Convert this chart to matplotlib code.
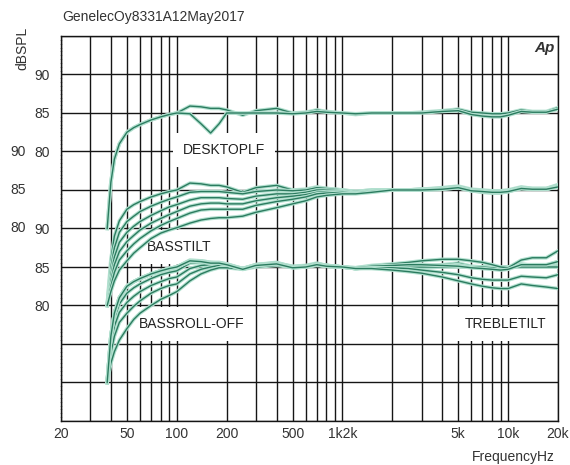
import matplotlib
matplotlib.use("Agg")
import matplotlib.pyplot as plt
import matplotlib.patheffects as pe
from matplotlib.ticker import FixedLocator, FixedFormatter, MultipleLocator, NullFormatter

plt.rcParams['font.family'] = ['Liberation Sans', 'DejaVu Sans']

# ---------------- data ----------------
FREQ = [38, 40, 42, 45, 50, 55, 60, 70, 80, 90, 100, 120, 140, 160, 180, 200, 250, 300, 400, 500,
        600, 700, 800, 1000, 1200, 1500, 2000, 2500, 3000, 4000, 5000, 6000, 7000, 8000, 9000, 10000,
        12000, 14000, 17000, 20000]

# Set 1: DESKTOP LF
FLAT = [70.0, 76.0, 79.0, 81.0, 82.5, 83.1, 83.5, 84.1, 84.5, 84.8, 85.0, 85.9, 85.8, 85.6, 85.6, 85.4, 84.7, 85.3, 85.6, 85.0,
        85.1, 85.4, 85.2, 85.0, 84.8, 85.0, 85.0, 85.0, 85.1, 85.3, 85.5, 85.1, 85.0, 84.9, 84.9, 85.0, 85.4, 85.2, 85.2, 85.7]
DESK = [70.0, 76.0, 79.0, 81.0, 82.5, 83.1, 83.5, 84.1, 84.5, 84.8, 85.0, 84.9, 83.6, 82.4, 83.6, 85.0, 85.0, 85.0, 85.0, 84.9,
        85.0, 85.2, 85.1, 85.0, 84.9, 85.0, 85.0, 85.0, 85.0, 85.2, 85.3, 84.8, 84.6, 84.5, 84.5, 84.7, 85.2, 85.1, 85.1, 85.5]

# Set 2: BASS TILT
BT1 = [70.0, 75.0, 77.5, 79.5, 80.9, 81.6, 82.2, 82.9, 83.4, 83.8, 84.1, 84.7, 84.8, 84.8, 84.8, 84.7, 84.5, 84.8, 85.0, 84.9,
       85.0, 85.3, 85.2, 85.0, 84.8, 85.0, 85.0, 85.0, 85.1, 85.2, 85.4, 85.0, 84.9, 84.8, 84.8, 84.9, 85.3, 85.2, 85.2, 85.6]
BT2 = [70.0, 74.0, 76.3, 78.2, 79.5, 80.3, 80.9, 81.7, 82.3, 82.8, 83.1, 83.7, 84.0, 84.0, 84.0, 83.9, 83.8, 84.2, 84.5, 84.5,
       84.7, 85.0, 85.0, 84.9, 84.7, 84.9, 85.0, 85.0, 85.1, 85.2, 85.4, 84.9, 84.7, 84.6, 84.6, 84.8, 85.3, 85.1, 85.1, 85.5]
BT3 = [70.0, 73.2, 75.3, 77.0, 78.3, 79.1, 79.8, 80.7, 81.3, 81.8, 82.2, 82.9, 83.2, 83.3, 83.3, 83.2, 83.2, 83.6, 84.0, 84.2,
       84.4, 84.7, 84.8, 84.8, 84.6, 84.9, 85.0, 85.0, 85.0, 85.2, 85.3, 85.0, 84.9, 84.8, 84.8, 84.9, 85.2, 85.1, 85.1, 85.5]
BT4 = [70.0, 72.5, 74.3, 75.9, 77.1, 78.0, 78.7, 79.7, 80.4, 80.9, 81.3, 82.0, 82.4, 82.5, 82.5, 82.5, 82.5, 83.0, 83.5, 83.8,
       84.1, 84.5, 84.6, 84.7, 84.6, 84.8, 85.0, 85.0, 85.0, 85.1, 85.3, 84.9, 84.8, 84.7, 84.7, 84.8, 85.2, 85.1, 85.1, 85.5]
BT5 = [70.0, 71.8, 73.2, 74.6, 75.8, 76.8, 77.5, 78.7, 79.4, 79.8, 80.1, 80.7, 81.1, 81.3, 81.4, 81.4, 81.6, 82.1, 82.7, 83.2,
       83.6, 84.1, 84.3, 84.5, 84.5, 84.7, 85.0, 85.0, 85.0, 85.1, 85.3, 84.9, 84.8, 84.7, 84.7, 84.8, 85.2, 85.1, 85.1, 85.4]

# Set 3: BASS ROLL-OFF and TREBLE TILT
RO1 = [70.0, 75.5, 78.3, 80.2, 81.6, 82.3, 82.8, 83.5, 84.0, 84.3, 84.5, 85.5, 85.6, 85.5, 85.5, 85.3, 84.8, 85.3, 85.5, 85.0,
       85.1, 85.4, 85.2, 85.0, 84.8, 85.0, 85.0, 85.0, 85.1, 85.2, 85.3, 85.0, 85.0, 84.9, 84.9, 85.0, 85.2, 85.1, 85.1, 85.3]
RO2 = [70.0, 74.8, 77.3, 79.1, 80.4, 81.2, 81.8, 82.6, 83.1, 83.5, 83.7, 84.8, 85.2, 85.3, 85.4, 85.2, 84.8, 85.2, 85.4, 85.0,
       85.1, 85.3, 85.2, 85.0, 84.8, 85.0, 85.0, 85.0, 85.0, 85.1, 85.2, 85.0, 85.0, 84.9, 84.9, 85.0, 85.1, 85.0, 85.0, 85.2]
RO3 = [70.0, 73.8, 76.0, 77.8, 79.0, 79.9, 80.6, 81.6, 82.2, 82.6, 82.8, 84.1, 84.7, 85.0, 85.2, 85.1, 84.8, 85.1, 85.3, 85.0,
       85.1, 85.3, 85.1, 85.0, 84.8, 85.0, 85.0, 85.0, 85.0, 85.1, 85.1, 85.0, 85.0, 84.9, 84.9, 85.0, 85.1, 85.0, 85.0, 85.1]
RO4 = [70.0, 72.5, 74.0, 75.5, 77.0, 78.2, 79.0, 80.0, 80.8, 81.3, 81.8, 83.2, 84.1, 84.6, 84.9, 84.9, 84.7, 85.0, 85.2, 85.0,
       85.0, 85.2, 85.1, 85.0, 84.8, 85.0, 85.0, 85.0, 85.0, 85.0, 85.0, 85.0, 85.0, 84.9, 84.9, 85.0, 85.0, 85.0, 85.0, 85.0]
TT1 = [70.0, 76.0, 79.0, 81.0, 82.5, 83.1, 83.5, 84.1, 84.5, 84.8, 85.0, 85.8, 85.8, 85.6, 85.5, 85.4, 84.8, 85.3, 85.5, 85.1,
       85.2, 85.5, 85.2, 85.0, 84.9, 85.2, 85.4, 85.6, 85.8, 86.0, 86.0, 85.8, 85.6, 85.3, 85.0, 84.9, 85.9, 86.2, 86.2, 87.1]
TT2 = [70.0, 76.0, 79.0, 81.0, 82.5, 83.1, 83.5, 84.1, 84.5, 84.8, 85.0, 85.7, 85.7, 85.5, 85.5, 85.3, 84.8, 85.2, 85.5, 85.0,
       85.1, 85.4, 85.2, 85.0, 84.9, 85.1, 85.2, 85.3, 85.3, 85.2, 85.1, 84.9, 84.8, 84.7, 84.6, 84.7, 85.3, 85.3, 85.3, 85.7]
TT3 = [70.0, 76.0, 79.0, 81.0, 82.5, 83.1, 83.5, 84.1, 84.5, 84.8, 85.0, 85.8, 85.7, 85.5, 85.5, 85.3, 84.7, 85.2, 85.4, 84.9,
       85.0, 85.3, 85.1, 85.0, 84.8, 84.9, 84.9, 84.8, 84.6, 84.3, 84.0, 83.6, 83.4, 83.3, 83.3, 83.3, 83.8, 83.7, 83.6, 84.0]
TT4 = [70.0, 76.0, 79.0, 81.0, 82.5, 83.1, 83.5, 84.1, 84.5, 84.8, 85.0, 85.8, 85.7, 85.5, 85.5, 85.3, 84.7, 85.2, 85.4, 84.9,
       85.0, 85.3, 85.1, 85.0, 84.8, 84.8, 84.6, 84.4, 84.2, 83.7, 83.2, 82.8, 82.5, 82.3, 82.2, 82.2, 82.8, 82.6, 82.4, 82.2]

SET_OFFSETS = [0, -10, -20]
SETS = [[FLAT, DESK],
        [FLAT, BT1, BT2, BT3, BT4, BT5],
        [FLAT, RO1, RO2, RO3, RO4, TT1, TT2, TT3, TT4]]

X_TICKS = [20, 50, 100, 200, 500, 1000, 5000, 10000, 20000]
X_LABELS = ['20', '50', '100', '200', '500', '1k2k', '5k', '10k', '20k']
Y_TICKS_RIGHT = {90: '90', 85: '85', 80: '80', 70: '90', 65: '85', 60: '80'}
Y_TICKS_LEFT = {80: '90', 75: '85', 70: '80'}

LABELS = [('DESKTOPLF', 193, 80.2), ('BASSTILT', 104, 67.6),
          ('BASSROLL-OFF', 123, 57.6), ('TREBLETILT', 9600, 57.6)]

# ---------------- plot ----------------
W, H = 570, 465
fig = plt.figure(figsize=(W / 100, H / 100), dpi=100)
ax = fig.add_axes([61 / W, 1 - 421 / H, 497 / W, 385 / H])
ax.set_xscale('log')
ax.set_xlim(20, 20000)
ax.set_ylim(45, 95)

gridc = '#151515'
minor_x = [m * 10 ** e for e in range(1, 5) for m in range(1, 10)
           if 20 <= m * 10 ** e <= 20000 and m * 10 ** e not in X_TICKS]
ax.xaxis.set_major_locator(FixedLocator(X_TICKS))
ax.xaxis.set_major_formatter(FixedFormatter(X_LABELS))
ax.xaxis.set_minor_locator(FixedLocator(minor_x))
ax.xaxis.set_minor_formatter(NullFormatter())
ax.grid(True, which='both', axis='x', color=gridc, lw=1.0, zorder=0.5)

ax.yaxis.set_major_locator(MultipleLocator(5))
ax.yaxis.set_major_formatter(plt.FuncFormatter(lambda v, p: Y_TICKS_RIGHT.get(int(round(v)), '')))
ax.yaxis.set_minor_locator(MultipleLocator(0.5))
ax.grid(True, which='major', axis='y', color=gridc, lw=1.0, zorder=0.5)
ax.set_axisbelow(True)

ax.tick_params(axis='x', which='both', length=0, pad=4, labelsize=10, labelcolor='#333333')
ax.tick_params(axis='y', which='major', length=0, pad=8, labelsize=10, labelcolor='#333333')
ax.tick_params(axis='y', which='minor', length=2, width=0.6, direction='inout', color='#9a9a9a')
for s in ax.spines.values():
    s.set_color(gridc)
    s.set_linewidth(1.0)

for v, t in Y_TICKS_LEFT.items():
    ax.text(-0.0705, v, t, transform=ax.get_yaxis_transform(), ha='right', va='center',
            fontsize=10, color='#333333')

halo = [pe.Stroke(linewidth=2.6, foreground='#b2e0cf'), pe.Normal()]
for off, curves in zip(SET_OFFSETS, SETS):
    for c in curves:
        ax.plot(FREQ, [v + off for v in c], color='#2b7b5f', lw=1.0, zorder=3,
                path_effects=halo, solid_joinstyle='round')

for txt, fx, fy in LABELS:
    ax.text(fx, fy, txt, ha='center', va='center', fontsize=10, color='#222222', zorder=1.5,
            bbox=dict(facecolor='white', edgecolor='none', pad=7))

fig.text(62 / W, 1 - 17 / H, 'GenelecOy8331A12May2017', ha='left', va='center', fontsize=10, color='#333333')
fig.text(22 / W, 1 - 48 / H, 'dBSPL', rotation=90, ha='center', va='center', fontsize=10, color='#333333')
fig.text(555 / W, 1 - 457 / H, 'FrequencyHz', ha='right', va='center', fontsize=10, color='#333333')
fig.text(545 / W, 1 - 48 / H, 'Ap', ha='center', va='center', fontsize=11, fontweight='bold',
         fontstyle='italic', color='#333333')

fig.savefig('out.png', dpi=100)
